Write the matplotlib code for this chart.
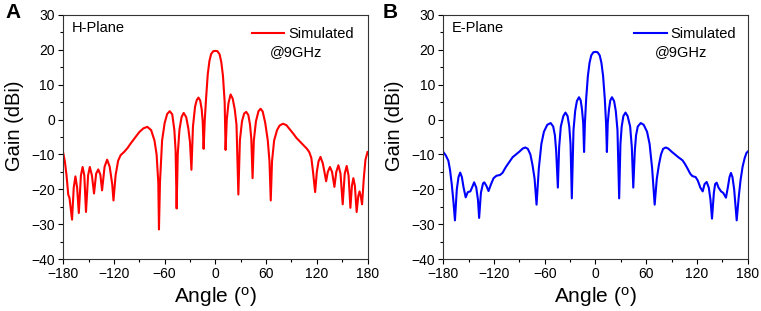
import numpy as np
import matplotlib
matplotlib.use('Agg')
from matplotlib import pyplot as plt
from matplotlib.ticker import MultipleLocator

plt.rcParams['font.family'] = ['Liberation Sans', 'DejaVu Sans']
plt.rcParams['mathtext.fontset'] = 'custom'
plt.rcParams['mathtext.rm'] = 'Liberation Sans'

# H-plane pattern (angle in deg, gain in dBi)
h_angle = [-180, -178, -176, -174, -172.5, -169.5, -167.5, -165.5, -163.5, -161.5,
           -159, -157, -155, -153, -150.5, -148.5, -146, -143.5, -141, -138.5,
           -136, -134, -131, -128, -125, -122, -120.5, -118, -115, -112,
           -108, -104, -100, -95, -90, -85, -80.5, -76, -72, -69.5,
           -67.5, -66.7, -65.5, -63, -60, -57, -54, -51, -48.5, -47,
           -45.8, -44.5, -42.5, -40, -37.5, -34.5, -32, -30, -28.3, -26.5,
           -24, -22, -20, -18, -16.2, -15, -13.9, -12.5, -11, -9,
           -7, -5, -2.5, 0, 2.5, 5, 7, 9, 11, 12.1,
           13.5, 15.5, 18, 20.5, 23, 25, 27.2, 29, 31.5, 34,
           36.5, 39, 41, 42.5, 44, 45.5, 48, 51, 53.5, 56,
           59, 62, 64, 65.5, 67, 69.5, 73, 76, 80, 84,
           88, 92, 96, 100, 104, 108, 111, 113.5, 115.5, 118,
           120, 122, 124.3, 127, 129, 131, 133, 135.5, 138, 140.8,
           143, 145.5, 148, 150.6, 153, 155.3, 157.5, 159.7, 161.5, 163.2,
           165, 167.1, 169, 170.5, 172, 173.5, 175.5, 177.5, 180]
h_gain = [-9.5, -12, -16, -21.5, -22.5, -28.7, -19.5, -16.3, -19.5, -26.8,
          -16, -13.6, -16, -26.5, -16, -13.6, -16, -21.2, -15.5, -14.3,
          -15.8, -20.3, -13.5, -11.5, -13.5, -18.5, -23.2, -16, -11.8, -10.2,
          -9.3, -8.2, -6.8, -5.2, -3.6, -2.5, -2.1, -3, -6, -10,
          -18, -31.5, -18, -6, -1, 1.6, 2.4, 1.5, -3, -9,
          -25.5, -10, -3, 0.7, 1.9, 0.7, -2.5, -6.5, -14.4, -2,
          3.7, 5.6, 6.3, 5.5, 3, -0.5, -8.4, 0, 6, 13,
          16.8, 18.8, 19.6, 19.7, 19.6, 18.7, 16.5, 12.5, 5, -8.7,
          0, 4.7, 7.2, 6, 2.8, -1.5, -21.5, -6, -0.5, 1.7,
          2.2, 1.3, -1.5, -5.5, -16.8, -6, -0.5, 2.4, 3.1, 2.3,
          -1, -6, -12, -23.2, -12, -6, -3, -1.7, -1.2, -1.6,
          -2.8, -4.0, -5.3, -6.3, -7.3, -8.3, -9.3, -11, -15, -20.8,
          -15, -12, -10.7, -12.5, -15, -17.7, -15, -13.6, -15, -19.3,
          -15, -13.1, -15.5, -24.3, -15.5, -13.3, -16, -25.3, -19, -16.8,
          -19, -26.5, -22, -20.6, -22, -24.3, -17, -11.5, -9.3]

# E-plane pattern
e_angle = [-180, -177, -174, -172, -170, -168, -166.2, -164, -162, -160,
           -158, -156, -153.5, -151, -148, -146, -143.5, -141, -139, -137.6,
           -135.5, -133, -131.5, -129, -126.5, -123.5, -120.5, -117, -113, -110,
           -106, -102, -98, -94, -90, -86, -83, -80, -77, -74.5,
           -72, -69.7, -67, -64, -61, -57, -53, -50, -48, -46.5,
           -44.5, -43, -41, -38, -35.5, -33, -31, -29.5, -28, -26,
           -24, -22, -19.5, -17.5, -16, -14.5, -13.5, -12.5, -11, -9,
           -7, -5, -2.5, 0, 2.5, 5, 7, 9, 11, 12.5,
           13.5, 14.5, 16, 17.5, 19.5, 22, 24, 26, 28, 29.5,
           31, 33, 35.5, 38, 41, 43, 44.7, 46.5, 48, 50,
           53.5, 57, 61, 64, 67, 70, 72.5, 75, 77.5, 80,
           83, 86, 90, 94, 98, 103, 106, 109, 112, 114.5,
           118.5, 121, 124, 126.8, 129, 131.5, 134, 136, 137.8, 140,
           141.5, 143.3, 145.5, 148.5, 151, 154.3, 156.5, 158.5, 160.2, 162,
           164, 167, 169.5, 171.5, 174, 176.5, 178.5, 180]
e_gain = [-9.3, -10.3, -11.8, -14.5, -18.5, -23.5, -28.9, -20, -16.5, -15.2,
          -16.5, -19.5, -22.3, -20.8, -20.6, -19.5, -18, -19.5, -23, -28.2,
          -21, -18.3, -18, -19, -20.5, -18.5, -16.8, -16.1, -15.9, -15.3,
          -13.6, -12.2, -10.8, -10, -9.2, -8.3, -8.0, -8.4, -10, -13,
          -17, -24.4, -14, -7, -3.5, -1.5, -1.0, -2, -4.5, -9,
          -19.5, -8, -2, 1, 2.0, 1, -2, -7, -22.6, -3,
          2.5, 5.3, 6.4, 5.5, 3, -1, -9.3, -1, 6, 12.5,
          16.3, 18.4, 19.3, 19.4, 19.3, 18.4, 16.3, 12.5, 6, -1,
          -9.3, -1, 3, 5.5, 6.4, 5.3, 2.5, -3, -22.6, -7,
          -2, 1, 2, 1, -2, -8, -19.5, -9, -4.5, -2,
          -1.0, -1.5, -3.5, -7, -14, -24.4, -17, -13, -10, -8.4,
          -8.0, -8.3, -9.2, -10, -10.8, -11.7, -12.8, -14.1, -15.5, -16.2,
          -16.5, -17.5, -19.5, -20.6, -18.5, -17.9, -19.5, -23, -28.4, -21,
          -18.5, -18.1, -19.5, -20.6, -21, -22.4, -19.5, -16.5, -15.3, -16.5,
          -20, -28.9, -22, -17.5, -13.5, -11, -9.6, -9.2]

x_ticks = [-180, -120, -60, 0, 60, 120, 180]
y_ticks = [-40, -30, -20, -10, 0, 10, 20, 30]

panels = [
    ('A', 'H-Plane', h_angle, h_gain, 'red', 0.083, 0.007, 0.619, 0.678),
    ('B', 'E-Plane', e_angle, e_gain, 'blue', 0.5825, 0.503, 0.626, 0.696),
]

fig = plt.figure(figsize=(7.61, 3.11), dpi=100)

for letter, plane, ang, gain, col, left, lx, legx, ghzx in panels:
    ax = fig.add_axes([left, 0.167, 0.4, 0.785])
    ax.plot(ang, gain, color=col, lw=1.5, label='Simulated')
    ax.set_xlim(-180, 180)
    ax.set_ylim(-40, 30)
    ax.set_xticks(x_ticks)
    ax.set_yticks(y_ticks)
    ax.xaxis.set_minor_locator(MultipleLocator(30))
    ax.yaxis.set_minor_locator(MultipleLocator(5))
    ax.tick_params(which='major', direction='out', length=3.5, width=0.8,
                   labelsize=10, top=False, right=False)
    ax.tick_params(which='minor', direction='out', length=2, width=0.8,
                   top=False, right=False)
    ax.tick_params(axis='x', pad=2)
    ax.tick_params(axis='y', pad=2.5)
    for s in ax.spines.values():
        s.set_linewidth(0.8)
        s.set_color('#333333')
    ax.set_xlabel('Angle ($\\mathrm{^o}$)', fontsize=15, labelpad=3)
    ax.set_ylabel('Gain (dBi)', fontsize=14.5)
    ax.yaxis.set_label_coords(-0.128, 0.545)

    ax.text(0.028, 0.945, plane, transform=ax.transAxes, fontsize=10.5,
            ha='left', va='center')
    ax.legend(loc='upper left', bbox_to_anchor=(legx, 0.952), frameon=False,
              fontsize=10.5, borderpad=0, borderaxespad=0,
              handlelength=2.25, handletextpad=0.27)
    ax.text(ghzx, 0.848, '@9GHz', transform=ax.transAxes, fontsize=10.5,
            ha='left', va='center')

    fig.text(lx, 0.99, letter, fontsize=15, fontweight='bold',
             ha='left', va='top')

fig.savefig('out.png', dpi=100)
